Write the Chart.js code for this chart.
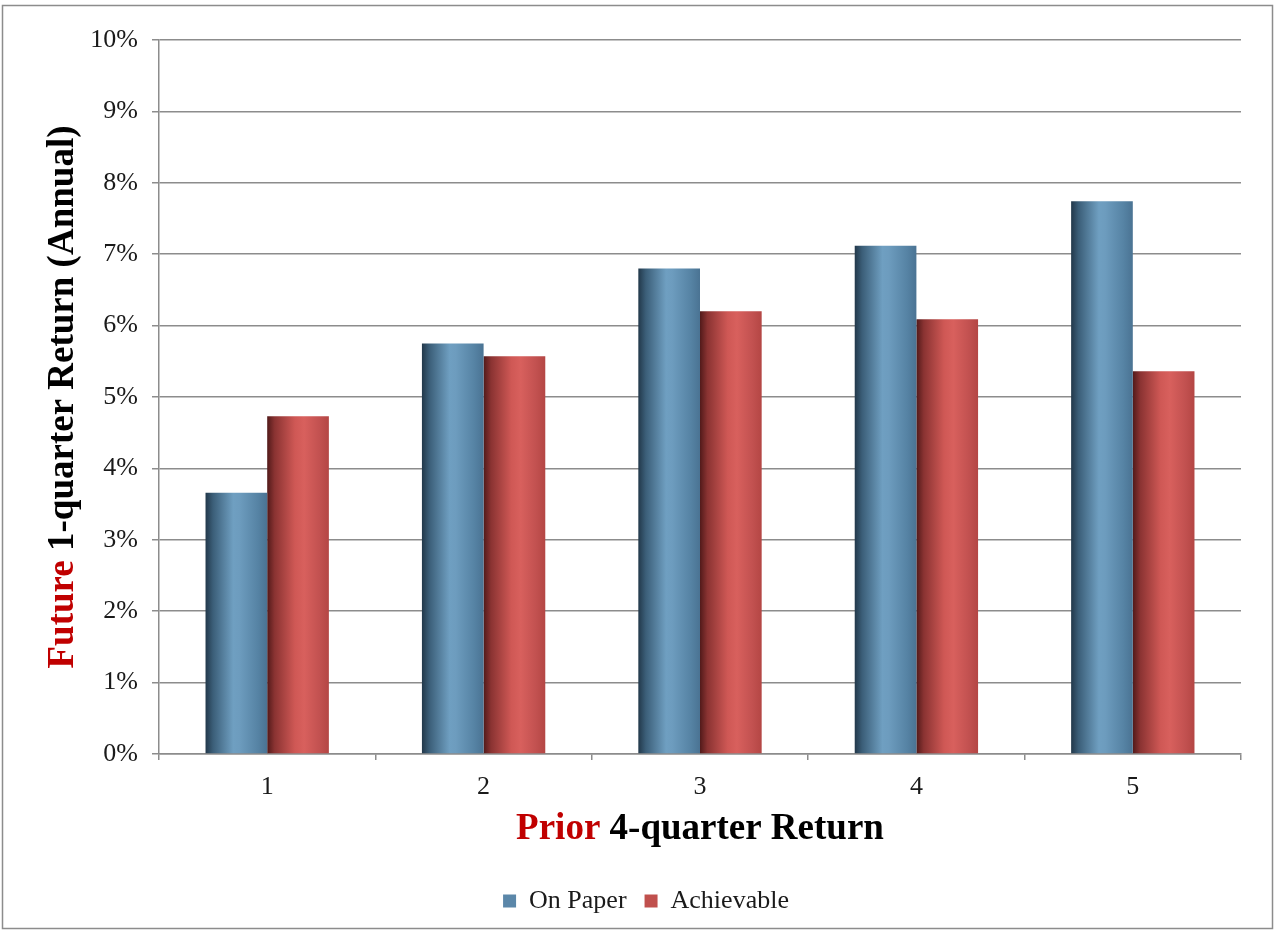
<!DOCTYPE html>
<html>
<head>
<meta charset="utf-8">
<title>Future vs Prior Return</title>
<script src="https://cdn.jsdelivr.net/npm/chart.js@4.4.1/dist/chart.umd.min.js"></script>
<style>
  html, body { margin: 0; padding: 0; background: #ffffff; }
  #wrap { position: relative; width: 1275px; height: 931px; }
  canvas { display: block; }
</style>
</head>
<body>
<div id="wrap"><canvas id="chart" width="1275" height="931"></canvas></div>
<script>
// Quintiles of prior 4-quarter return
const categories = ['1', '2', '3', '4', '5'];

// Future 1-quarter return, annualised, in percent
const onPaper    = [3.66, 5.75, 6.80, 7.12, 7.74];
const achievable = [4.73, 5.57, 6.20, 6.09, 5.36];

const seriesNames = ['On Paper', 'Achievable'];

// Axis titles, split into coloured runs
const yTitleRuns = [['Future', '#c00000'], [' 1-quarter Return (Annual)', '#000000']];
const xTitleRuns = [['Prior', '#c00000'], [' 4-quarter Return', '#000000']];

const FONT = "'Liberation Serif', 'Times New Roman', serif";
const GRID = '#8c8c8c';

Chart.defaults.font.family = FONT;
Chart.defaults.color = '#1a1a1a';

// Cylinder-like shading for each bar, left to right
const shades = [
  [[0, '#22384a'], [0.12, '#3b5e78'], [0.45, '#6f9fc1'], [0.55, '#6d9cbe'], [0.85, '#5683a4'], [1, '#4a7393']],
  [[0, '#521a1a'], [0.12, '#8a3332'], [0.45, '#cf5855'], [0.6, '#d8605d'], [0.85, '#c25150'], [1, '#b44644']]
];

const barShading = {
  id: 'barShading',
  beforeDatasetsDraw(chart) {
    const ctx = chart.ctx;
    chart.data.datasets.forEach((ds, di) => {
      const meta = chart.getDatasetMeta(di);
      meta.data.forEach(el => {
        const x0 = el.x - el.width / 2, x1 = el.x + el.width / 2;
        const g = ctx.createLinearGradient(x0, 0, x1, 0);
        shades[di].forEach(([o, c]) => g.addColorStop(o, c));
        el.options = Object.assign({}, el.options, { backgroundColor: g });
      });
    });
  }
};

function drawRuns(ctx, runs, font) {
  ctx.font = font;
  const total = runs.reduce((w, r) => w + ctx.measureText(r[0]).width, 0);
  let x = -total / 2;
  ctx.textAlign = 'left';
  ctx.textBaseline = 'alphabetic';
  runs.forEach(([t, c]) => {
    ctx.fillStyle = c;
    ctx.fillText(t, x, 0);
    x += ctx.measureText(t).width;
  });
}

const frameAndTitles = {
  id: 'frameAndTitles',
  afterDraw(chart) {
    const ctx = chart.ctx;
    const a = chart.chartArea;
    const font = "bold 37px " + FONT;
    ctx.save();
    // outer frame
    ctx.strokeStyle = GRID;
    ctx.lineWidth = 1.5;
    ctx.strokeRect(2.5, 5.5, 1270, 923);
    // x-axis title
    ctx.save();
    ctx.translate((a.left + a.right) / 2, a.bottom + 85);
    drawRuns(ctx, xTitleRuns, font);
    ctx.restore();
    // y-axis title
    ctx.save();
    ctx.translate(a.left - 86, (a.top + a.bottom) / 2);
    ctx.rotate(-Math.PI / 2);
    drawRuns(ctx, yTitleRuns, font);
    ctx.restore();
    ctx.restore();
  }
};

new Chart(document.getElementById('chart'), {
  type: 'bar',
  data: {
    labels: categories,
    datasets: [
      { label: seriesNames[0], data: onPaper, backgroundColor: '#5b87a9', borderWidth: 0 },
      { label: seriesNames[1], data: achievable, backgroundColor: '#c0504d', borderWidth: 0 }
    ]
  },
  options: {
    responsive: false,
    animation: false,
    events: [],
    categoryPercentage: 0.57,
    barPercentage: 1.0,
    layout: { padding: { left: 51, right: 34, top: 40, bottom: 7 } },
    plugins: {
      legend: {
        position: 'bottom',
        labels: {
          boxWidth: 13,
          boxHeight: 13,
          padding: 18,
          color: '#1a1a1a',
          font: { size: 26, family: FONT }
        }
      },
      tooltip: { enabled: false }
    },
    scales: {
      x: {
        afterFit(scale) { scale.height = 116; },
        grid: { display: true, drawOnChartArea: false, color: GRID, lineWidth: 1.5, tickLength: 6, offset: true },
        border: { display: true, color: GRID, width: 1.5 },
        ticks: { padding: 12, color: '#1a1a1a', font: { size: 26, family: FONT } }
      },
      y: {
        min: 0,
        max: 10,
        afterFit(scale) { scale.width = 108; },
        grid: { color: GRID, lineWidth: 1.5, tickLength: 7 },
        border: { display: true, color: GRID, width: 1.5 },
        ticks: {
          stepSize: 1,
          padding: 14,
          color: '#1a1a1a',
          font: { size: 26, family: FONT },
          callback: v => v + '%'
        }
      }
    }
  },
  plugins: [barShading, frameAndTitles]
});
</script>
</body>
</html>
